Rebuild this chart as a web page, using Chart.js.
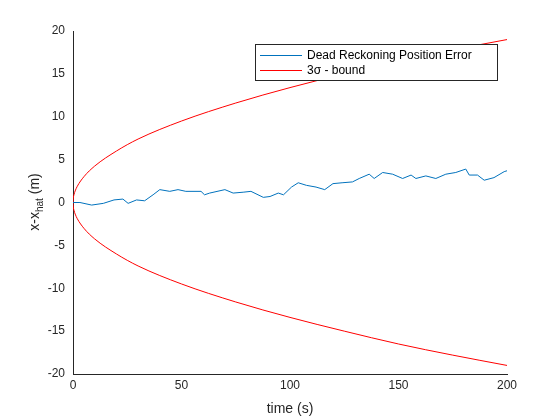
<!DOCTYPE html>
<html><head><script src="https://cdn.jsdelivr.net/npm/chart.js@4"></script>
<style>body{margin:0;background:#fff}</style></head>
<body><canvas id="c" width="560" height="420"></canvas>
<script>
// dead reckoning error
const errT = [0,3.2,8.6,14,18.9,23,25.4,29.3,33,36.9,40,44.6,48.4,52,59,60.6,63,70,73.8,78.4,82,87.7,90.8,94.6,97,100.7,103.8,107.6,112,116,119.8,124,128.8,131.9,136.5,138.8,142.7,147.3,151.9,155.8,158,162.6,167.2,171.8,176.4,181,182.6,186.4,189.5,194,198.7,200];
const errX = [0,0,-0.3,-0.1,0.3,0.4,-0.1,0.3,0.2,0.9,1.5,1.3,1.5,1.3,1.3,0.9,1.1,1.5,1.1,1.2,1.3,0.6,0.7,1.1,0.9,1.8,2.3,2.0,1.8,1.5,2.2,2.3,2.4,2.8,3.3,2.8,3.5,3.3,2.8,3.2,2.8,3.1,2.8,3.3,3.5,3.9,3.2,3.2,2.6,2.9,3.6,3.7];
const boundT = [0,0.1,0.5,1,2,5,10,20,30,50,75,100,125,150,175,200];
const boundX = [0,0.42,0.95,1.35,1.9,3.0,4.25,6.0,7.4,9.5,11.6,13.4,15.0,16.5,17.8,19.0];

const font = {family: "Liberation Sans, Arial, sans-serif", size: 12};
const dark = "#262626";

const upper = boundT.map((t, i) => ({x: t, y: boundX[i]}));
const lower = boundT.map((t, i) => ({x: t, y: -boundX[i]}));

const legendBox = {
  id: "legendBox",
  afterDraw(chart) {
    const c = chart.ctx;
    c.save();
    c.fillStyle = "#fff"; c.strokeStyle = dark; c.lineWidth = 1;
    c.fillRect(255.5, 44.5, 242, 36); c.strokeRect(255.5, 44.5, 242, 36);
    c.font = "12px Liberation Sans, Arial, sans-serif"; c.fillStyle = "#000"; c.textBaseline = "middle";
    c.strokeStyle = "#0072bd"; c.beginPath(); c.moveTo(260, 55.5); c.lineTo(302, 55.5); c.stroke();
    c.fillText("Dead Reckoning Position Error", 307, 55.5);
    c.strokeStyle = "#ff0000"; c.beginPath(); c.moveTo(260, 70.5); c.lineTo(302, 70.5); c.stroke();
    c.fillText("3σ - bound", 307, 70.5);
    // y axis title with subscript
    c.translate(35, 202); c.rotate(-Math.PI / 2);
    c.fillStyle = dark;
    const a = "x-x", b = "hat", d = " (m)";
    c.font = "14px Liberation Sans, Arial, sans-serif"; const wa = c.measureText(a).width, wd = c.measureText(d).width;
    c.font = "10px Liberation Sans, Arial, sans-serif"; const wb = c.measureText(b).width;
    let x0 = -(wa + wb + wd) / 2;
    c.font = "14px Liberation Sans, Arial, sans-serif"; c.fillText(a, x0, 0);
    c.font = "10px Liberation Sans, Arial, sans-serif"; c.fillText(b, x0 + wa, 5);
    c.font = "14px Liberation Sans, Arial, sans-serif"; c.fillText(d, x0 + wa + wb, 0);
    c.restore();
  }
};

new Chart(document.getElementById("c"), {
  type: "line",
  data: {
    datasets: [
      {label: "Dead Reckoning Position Error", data: errT.map((t, i) => ({x: t, y: errX[i]})), borderColor: "#0072bd", borderWidth: 1, pointRadius: 0},
      {label: "3σ - bound", data: upper, borderColor: "#ff0000", borderWidth: 1, pointRadius: 0, cubicInterpolationMode: "monotone"},
      {label: "lower", data: lower, borderColor: "#ff0000", borderWidth: 1, pointRadius: 0, cubicInterpolationMode: "monotone"}
    ]
  },
  options: {
    responsive: false, animation: false,
    layout: {padding: {top: 31, right: 53, left: 0, bottom: 0}},
    plugins: {legend: {display: false}, tooltip: {enabled: false}},
    scales: {
      x: {type: "linear", min: 0, max: 200,
        ticks: {stepSize: 50, color: dark, font, padding: 4},
        grid: {drawOnChartArea: false, tickLength: 0, color: dark},
        border: {color: dark},
        title: {display: true, text: "time (s)", color: dark, font: {family: font.family, size: 14}, padding: 2},
        afterFit(s) { s.height = 46; }},
      y: {min: -20, max: 20,
        ticks: {stepSize: 5, color: dark, font, padding: 8},
        grid: {drawOnChartArea: false, tickLength: 0, color: dark},
        border: {color: dark},
        afterFit(s) { s.width = 73; }}
    }
  },
  plugins: [legendBox]
});
</script></body></html>
